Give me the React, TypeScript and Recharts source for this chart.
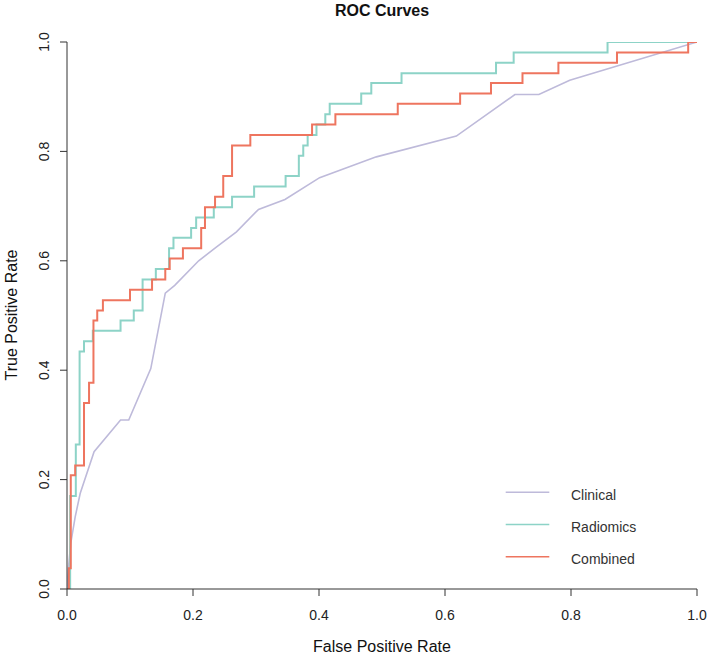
import { LineChart, Line, XAxis, YAxis, Legend } from "recharts";

// ROC points (fpr = 1 - specificity, tpr = sensitivity)
const clinicalFpr = [0, 0.002, 0.006, 0.013, 0.021, 0.043, 0.085, 0.098, 0.133, 0.156, 0.171, 0.209, 0.237, 0.269, 0.304, 0.346, 0.401, 0.491, 0.618, 0.711, 0.749, 0.798, 1];
const clinicalTpr = [0, 0.035, 0.084, 0.132, 0.175, 0.251, 0.309, 0.309, 0.403, 0.541, 0.555, 0.6, 0.625, 0.653, 0.694, 0.712, 0.752, 0.79, 0.828, 0.904, 0.904, 0.93, 1];

// step curves: each point is the top of a vertical rise
const radiomicsFpr = [0, 0.005, 0.014, 0.02, 0.027, 0.041, 0.085, 0.106, 0.12, 0.141, 0.162, 0.169, 0.197, 0.205, 0.233, 0.262, 0.297, 0.347, 0.368, 0.375, 0.382, 0.396, 0.41, 0.417, 0.467, 0.483, 0.531, 0.681, 0.709, 0.858, 1];
const radiomicsTpr = [0, 0.17, 0.264, 0.434, 0.453, 0.472, 0.491, 0.509, 0.566, 0.585, 0.623, 0.642, 0.66, 0.679, 0.698, 0.717, 0.736, 0.755, 0.792, 0.811, 0.83, 0.849, 0.868, 0.887, 0.906, 0.925, 0.943, 0.962, 0.981, 1, 1];

const combinedFpr = [0, 0.003, 0.006, 0.013, 0.027, 0.035, 0.042, 0.048, 0.057, 0.1, 0.135, 0.156, 0.163, 0.184, 0.213, 0.219, 0.235, 0.248, 0.262, 0.291, 0.389, 0.426, 0.525, 0.624, 0.673, 0.723, 0.78, 0.873, 0.986, 1];
const combinedTpr = [0, 0.038, 0.208, 0.226, 0.34, 0.377, 0.491, 0.509, 0.528, 0.547, 0.566, 0.585, 0.604, 0.623, 0.66, 0.698, 0.717, 0.755, 0.811, 0.83, 0.849, 0.868, 0.887, 0.906, 0.925, 0.943, 0.962, 0.981, 1, 1];

const ticks = [0, 0.2, 0.4, 0.6, 0.8, 1];

const series = [
  { name: "Clinical", color: "#BEBADA", width: 1.6 },
  { name: "Radiomics", color: "#8DD3C7", width: 2 },
  { name: "Combined", color: "#EE755F", width: 2 },
];

const FONT = "'Liberation Sans', Arial, sans-serif";

function toPoints(fpr: number[], tpr: number[]) {
  return fpr.map((x, i) => ({ fpr: x, tpr: tpr[i] }));
}

const clinical = toPoints(clinicalFpr, clinicalTpr);
const radiomics = toPoints(radiomicsFpr, radiomicsTpr);
const combined = toPoints(combinedFpr, combinedTpr);

function YTick(props: any) {
  const { x, y, payload } = props;
  return (
    <text
      x={x}
      y={y}
      transform={`rotate(-90, ${x}, ${y})`}
      textAnchor="middle"
      fontSize={14}
      fill="#222"
    >
      {Number(payload.value).toFixed(1)}
    </text>
  );
}

function RocLegend() {
  return (
    <svg width={170} height={95}>
      {series.map((s, i) => {
        const y = 17.3 + i * 32.2;
        return (
          <g key={s.name}>
            <line x1={5.7} x2={49.3} y1={y} y2={y} stroke={s.color} strokeWidth={1.5} />
            <text x={71} y={y + 7.5} fontSize={14} fill="#333" fontFamily={FONT}>
              {s.name}
            </text>
          </g>
        );
      })}
    </svg>
  );
}

export default function App() {
  return (
    <div style={{ position: "absolute", left: 0, top: 0, width: 708, height: 656, background: "#fff" }}>
      <LineChart
        width={708}
        height={656}
        margin={{ top: 42, right: 11, bottom: 0, left: 0 }}
        style={{ fontFamily: FONT }}
      >
        <XAxis
          type="number"
          dataKey="fpr"
          domain={[0, 1]}
          ticks={ticks}
          allowDataOverflow
          height={67}
          tickSize={7}
          tickMargin={14}
          tickFormatter={(v) => Number(v).toFixed(1)}
          tick={{ fontSize: 14, fill: "#222" }}
          stroke="#333"
        />
        <YAxis
          type="number"
          dataKey="tpr"
          domain={[0, 1]}
          ticks={ticks}
          allowDataOverflow
          width={67}
          tickSize={7}
          tickMargin={11}
          tick={<YTick />}
          stroke="#333"
        />
        <Legend
          layout="vertical"
          verticalAlign="middle"
          align="center"
          content={() => <RocLegend />}
          wrapperStyle={{ left: 500, top: 475, width: 170, height: 95 }}
        />
        <Line
          data={clinical}
          dataKey="tpr"
          name="Clinical"
          type="linear"
          stroke={series[0].color}
          strokeWidth={series[0].width}
          dot={false}
          activeDot={false}
          isAnimationActive={false}
        />
        <Line
          data={radiomics}
          dataKey="tpr"
          name="Radiomics"
          type="stepAfter"
          stroke={series[1].color}
          strokeWidth={series[1].width}
          dot={false}
          activeDot={false}
          isAnimationActive={false}
        />
        <Line
          data={combined}
          dataKey="tpr"
          name="Combined"
          type="stepAfter"
          stroke={series[2].color}
          strokeWidth={series[2].width}
          dot={false}
          activeDot={false}
          isAnimationActive={false}
        />
      </LineChart>
      <svg
        width={708}
        height={656}
        style={{ position: "absolute", left: 0, top: 0, pointerEvents: "none", fontFamily: FONT }}
      >
        <text x={382} y={15.5} textAnchor="middle" fontSize={16} fontWeight="bold" fill="#111">
          ROC Curves
        </text>
        <text x={382} y={651.5} textAnchor="middle" fontSize={16} fill="#111">
          False Positive Rate
        </text>
        <text
          x={16.5}
          y={315}
          transform="rotate(-90, 16.5, 315)"
          textAnchor="middle"
          fontSize={16}
          fill="#111"
        >
          True Positive Rate
        </text>
      </svg>
    </div>
  );
}
